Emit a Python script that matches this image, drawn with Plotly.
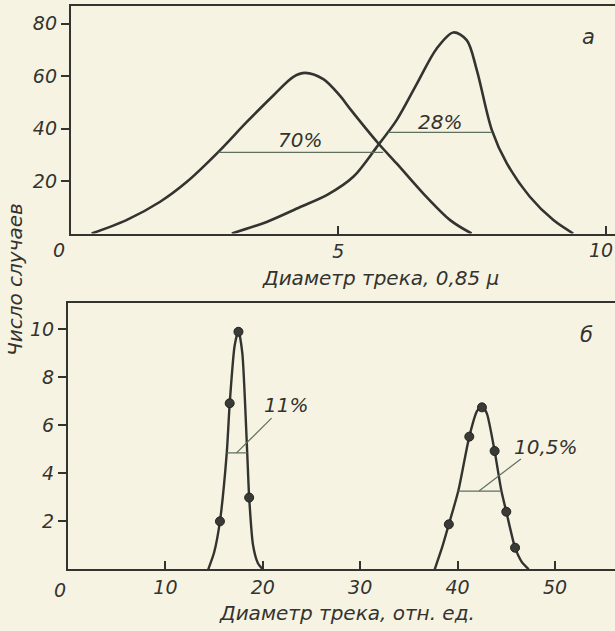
import plotly.graph_objects as go

# ---- Panel a (top): smoothed distributions, diameter in units of 0.85 mu
a_curve1_x = [0.39, 1.04, 1.67, 2.17, 2.76, 3.29, 3.79, 4.16, 4.38, 4.72, 5.03, 5.22, 5.75, 6.09, 6.59, 7.09, 7.49]
a_curve1_y = [0, 5.1, 12.1, 19.7, 31.1, 42.5, 52.7, 59.7, 61.2, 58.8, 52.5, 47.5, 34.3, 26.7, 15.2, 5.1, 0]
a_curve2_x = [3.01, 3.66, 4.28, 4.80, 5.28, 5.72, 6.09, 6.47, 6.84, 7.15, 7.40, 7.59, 7.87, 8.15, 8.58, 9.02, 9.39]
a_curve2_y = [0, 4.4, 10.0, 14.8, 21.6, 33.0, 43.2, 57.1, 70.5, 76.6, 73.7, 62.2, 39.4, 26.7, 14.0, 5.1, 0]
a_half1 = {"x": [2.76, 5.84], "y": [30.9, 30.9], "label": "70%", "lx": 4.28, "ly": 35.6}
a_half2 = {"x": [5.93, 7.87], "y": [38.5, 38.5], "label": "28%", "lx": 6.90, "ly": 42.5}
a_xticks = [5, 10]
a_yticks = [20, 40, 60, 80]

# ---- Panel b (bottom): measured points and fitted curves, relative units
b_pts1_x = [15.6, 16.6, 17.5, 18.6]
b_pts1_y = [2.0, 6.92, 9.9, 2.99]
b_curve1_x = [14.4, 15.0, 15.6, 16.3, 16.6, 17.1, 17.5, 17.9, 18.4, 18.6, 19.0, 19.5, 20.0]
b_curve1_y = [0, 0.7, 2.0, 4.85, 6.9, 9.3, 9.95, 9.0, 4.85, 3.0, 1.0, 0.25, 0]
b_pts2_x = [39.1, 41.2, 42.5, 43.8, 45.0, 45.9]
b_pts2_y = [1.875, 5.53, 6.75, 4.93, 2.4, 0.9]
b_curve2_x = [37.65, 38.4, 39.1, 40.07, 41.2, 42.0, 42.5, 43.0, 43.8, 44.5, 45.0, 45.9, 46.6, 47.3]
b_curve2_y = [0, 0.9, 1.875, 3.26, 5.53, 6.6, 6.8, 6.5, 4.93, 3.26, 2.4, 0.9, 0.3, 0]
b_half1 = {"x": [16.3, 18.4], "y": [4.85, 4.85], "lead_x": [17.3, 20.9], "lead_y": [4.85, 6.3],
           "label": "11%", "lx": 22.4, "ly": 6.85}
b_half2 = {"x": [40.07, 44.5], "y": [3.26, 3.26], "lead_x": [42.2, 46.5], "lead_y": [3.26, 4.6],
           "label": "10,5%", "lx": 49.1, "ly": 5.1}
b_xticks = [10, 20, 30, 40, 50]
b_yticks = [2, 4, 6, 8, 10]

INK = "#333330"
THIN = "#5f705f"
BG = "#f7f3e2"
FONT = dict(family="DejaVu Sans", size=19, color=INK, style="italic")
LFONT = dict(family="DejaVu Sans", size=20, color=INK, style="italic")

fig = go.Figure()

# top panel curves
for cx, cy in [(a_curve1_x, a_curve1_y), (a_curve2_x, a_curve2_y)]:
    fig.add_trace(go.Scatter(x=cx, y=cy, mode="lines", line=dict(color=INK, width=2.6, shape="spline", smoothing=0.9),
                             xaxis="x", yaxis="y", showlegend=False, hoverinfo="skip"))
for h in [a_half1, a_half2]:
    fig.add_trace(go.Scatter(x=h["x"], y=h["y"], mode="lines", line=dict(color=THIN, width=1.2),
                             xaxis="x", yaxis="y", showlegend=False, hoverinfo="skip"))
    fig.add_annotation(x=h["lx"], y=h["ly"], xref="x", yref="y", text=h["label"], showarrow=False, font=LFONT)

# bottom panel curves and points
for cx, cy, px, py in [(b_curve1_x, b_curve1_y, b_pts1_x, b_pts1_y), (b_curve2_x, b_curve2_y, b_pts2_x, b_pts2_y)]:
    fig.add_trace(go.Scatter(x=cx, y=cy, mode="lines", line=dict(color=INK, width=2.4, shape="spline", smoothing=0.6),
                             xaxis="x2", yaxis="y2", showlegend=False, hoverinfo="skip"))
    fig.add_trace(go.Scatter(x=px, y=py, mode="markers", marker=dict(color="#3a3a36", size=9, line=dict(color="#222", width=1)),
                             xaxis="x2", yaxis="y2", showlegend=False, hoverinfo="skip"))
for h in [b_half1, b_half2]:
    fig.add_trace(go.Scatter(x=h["x"], y=h["y"], mode="lines", line=dict(color=THIN, width=1.2),
                             xaxis="x2", yaxis="y2", showlegend=False, hoverinfo="skip"))
    fig.add_trace(go.Scatter(x=h["lead_x"], y=h["lead_y"], mode="lines", line=dict(color=THIN, width=1.2),
                             xaxis="x2", yaxis="y2", showlegend=False, hoverinfo="skip"))
    fig.add_annotation(x=h["lx"], y=h["ly"], xref="x2", yref="y2", text=h["label"], showarrow=False, font=LFONT)

# panel letters
fig.add_annotation(x=9.67, y=74.9, xref="x", yref="y", text="а", showarrow=False,
                   font=dict(family="DejaVu Sans", size=21, color=INK, style="italic"))
fig.add_annotation(x=53.2, y=9.76, xref="x2", yref="y2", text="б", showarrow=False,
                   font=dict(family="DejaVu Sans", size=21, color=INK, style="italic"))
# zero labels shifted left of axis; "10" label at the right edge of panel a
fig.add_annotation(x=0, y=0, xref="x", yref="y", text="0", showarrow=False, xshift=-12, yshift=-16, font=FONT)
fig.add_annotation(x=0, y=0, xref="x2", yref="y2", text="0", showarrow=False, xshift=-8, yshift=-21, font=FONT)
fig.add_annotation(x=a_xticks[-1], y=0, xref="x", yref="y", text=str(a_xticks[-1]), showarrow=False,
                   xanchor="center", xshift=-5, yshift=-16, font=FONT)

# axis titles
fig.add_annotation(x=380 / 615, y=(631 - 278) / 631, xref="paper", yref="paper", text="Диаметр трека, 0,85 μ",
                   showarrow=False, xanchor="center", yanchor="middle", font=LFONT)
fig.add_annotation(x=347 / 615, y=(631 - 613) / 631, xref="paper", yref="paper", text="Диаметр трека, отн. ед.",
                   showarrow=False, xanchor="center", yanchor="middle", font=LFONT)
fig.add_annotation(x=15 / 615, y=(631 - 280) / 631, xref="paper", yref="paper", text="Число случаев",
                   showarrow=False, textangle=-90, xanchor="center", yanchor="middle", font=LFONT)

axis_common = dict(showgrid=False, zeroline=False, linecolor=INK, linewidth=2, tickfont=FONT,
                   tickcolor=INK, ticklen=8, tickwidth=1.5)

fig.update_layout(
    width=615, height=631, margin=dict(l=0, r=0, t=0, b=0),
    paper_bgcolor=BG, plot_bgcolor=BG,
    xaxis=dict(domain=[70.8 / 615, 1], range=[0, (615 - 70.8) / 53.5], tickvals=a_xticks,
               ticktext=[str(a_xticks[0]), ""], ticks="inside",
               mirror=True, showline=True, anchor="y", **axis_common),
    yaxis=dict(domain=[(631 - 233.5) / 631, (631 - 5.7) / 631], range=[0, 86.8], tickvals=a_yticks,
               ticks="outside", showline=True, anchor="x", **axis_common),
    xaxis2=dict(domain=[68 / 615, 1], range=[0, 56.16], tickvals=b_xticks, ticks="inside", mirror=True,
                showline=True, anchor="y2", **axis_common),
    yaxis2=dict(domain=[(631 - 569.3) / 631, (631 - 303) / 631], range=[0, 11.1], tickvals=b_yticks,
                ticks="outside", showline=True, anchor="x2", **axis_common),
)

fig.write_html("out.html", config={"displayModeBar": False},
               post_script="document.body.style.margin='0';document.body.style.overflow='hidden';")
